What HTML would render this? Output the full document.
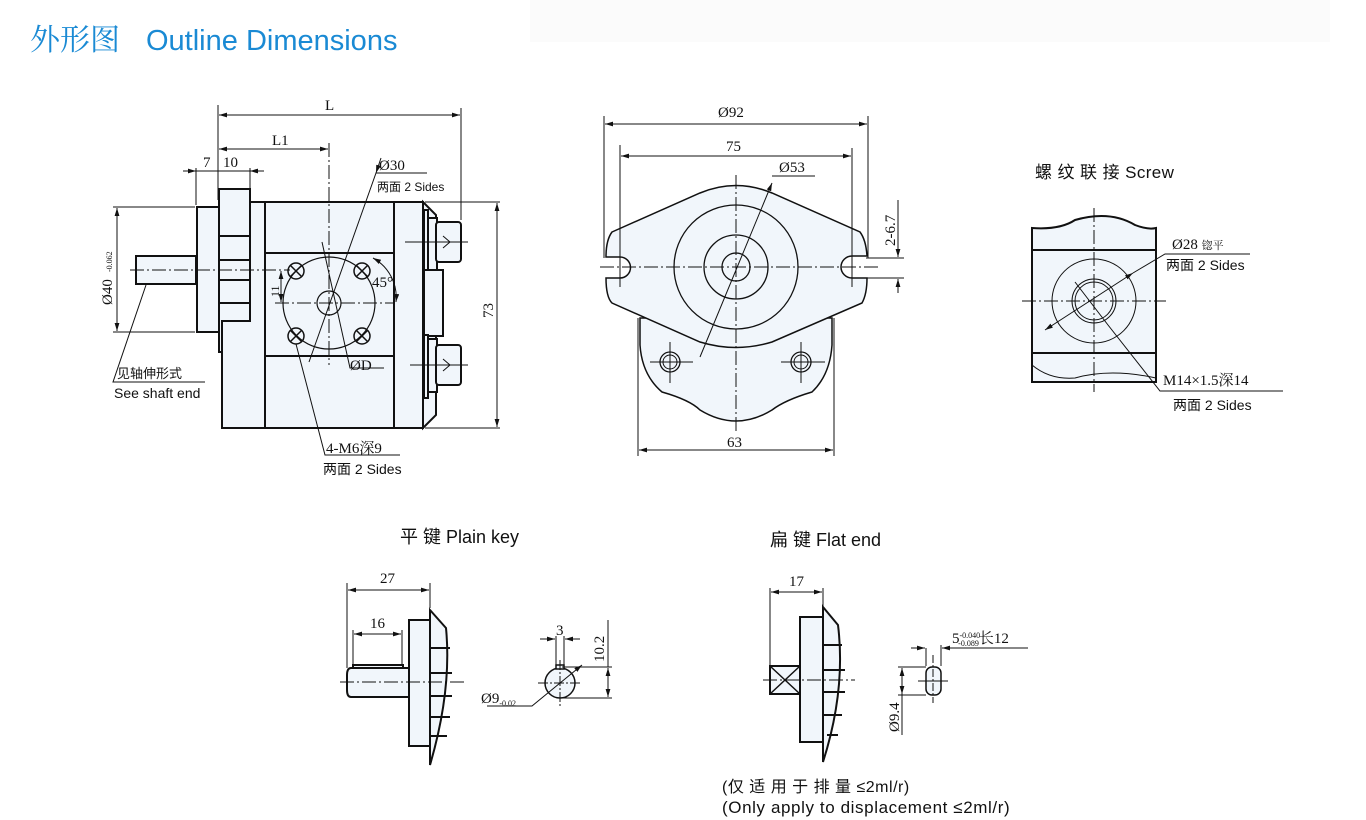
<!DOCTYPE html>
<html><head><meta charset="utf-8"><style>
body{margin:0;background:#fff;width:1366px;height:820px;overflow:hidden}
svg{display:block}
text{font-family:"Liberation Serif","Noto Serif CJK SC",serif;fill:#111}
.s{font-family:"Liberation Sans","Noto Sans CJK SC",sans-serif}
</style></head><body>
<svg width="1366" height="820" viewBox="0 0 1366 820" xmlns="http://www.w3.org/2000/svg">
<defs>
<marker id="a" viewBox="0 0 10 6" refX="10" refY="3" markerWidth="8" markerHeight="5" orient="auto-start-reverse"><path d="M0,0L10,3L0,6z" fill="#111"/></marker>
</defs>
<rect x="530" y="0" width="800" height="42" fill="#fbfbfb"/>
<text x="30" y="50" font-size="30" style="fill:#1a8ad4;font-family:'Noto Serif CJK SC',serif">外形图</text>
<text x="146" y="50" class="s" font-size="29" style="fill:#1a8ad4">Outline Dimensions</text>

<g stroke="#111" fill="none" stroke-width="1">
<!-- MAIN VIEW -->
<g fill="#f1f6fb" stroke-width="2">
<rect x="136" y="256" width="60" height="28"/>
<rect x="197" y="207" width="22" height="125"/>
<path d="M250,202H423V428H222V321H250z"/>
<path d="M219,189H250V321H222V352H219z"/>
<path d="M423,202L436,215V415L423,428z"/>
<rect x="424" y="210" width="4" height="62"/>
<rect x="428" y="218" width="9" height="53"/>
<rect x="436" y="222" width="25" height="40" rx="3"/>
<path d="M424,270H443V336H424z"/>
<rect x="424" y="335" width="4" height="63"/>
<rect x="428" y="339" width="9" height="53"/>
<rect x="436" y="345" width="25" height="40" rx="3"/>
</g>
<g stroke-width="2">
<line x1="265" y1="202" x2="265" y2="428"/><line x1="394" y1="202" x2="394" y2="428"/>
<line x1="265" y1="253" x2="394" y2="253"/><line x1="265" y1="356" x2="394" y2="356"/>
<line x1="219" y1="236" x2="250" y2="236"/><line x1="219" y1="260" x2="250" y2="260"/>
<line x1="219" y1="280" x2="250" y2="280"/><line x1="219" y1="303" x2="250" y2="303"/>
</g>
<circle cx="329" cy="303" r="46" stroke-width="1.2"/>
<circle cx="329" cy="303" r="12" stroke-width="1.2"/>
<g stroke-width="1.5">
<circle cx="296" cy="271" r="8"/><circle cx="362" cy="271" r="8"/>
<circle cx="296" cy="336" r="8"/><circle cx="362" cy="336" r="8"/>
<path d="M290,265l12,12M302,265l-12,12M356,265l12,12M368,265l-12,12M290,330l12,12M302,330l-12,12M356,330l12,12M368,330l-12,12"/>
</g>
<line x1="329" y1="143" x2="329" y2="365" stroke-dasharray="14,3,2,3"/>
<line x1="275" y1="303" x2="395" y2="303" stroke-dasharray="14,3,2,3"/>
<line x1="130" y1="270" x2="290" y2="270" stroke-dasharray="14,3,2,3"/>
<line x1="405" y1="242" x2="468" y2="242"/><line x1="410" y1="365" x2="468" y2="365"/>
<path d="M443,236l7,6l-7,6M443,359l7,6l-7,6"/>
<!-- dims -->
<line x1="218" y1="105" x2="218" y2="200"/><line x1="461" y1="108" x2="461" y2="220"/>
<line x1="219" y1="115" x2="460" y2="115" marker-start="url(#a)" marker-end="url(#a)"/>
<line x1="219" y1="149" x2="328" y2="149" marker-start="url(#a)" marker-end="url(#a)"/>
<line x1="196" y1="168" x2="196" y2="205"/><line x1="250" y1="168" x2="250" y2="188"/>
<line x1="183" y1="171" x2="196" y2="171" marker-end="url(#a)"/><line x1="264" y1="171" x2="250" y2="171" marker-end="url(#a)"/>
<line x1="196" y1="171" x2="250" y2="171"/>
<line x1="425" y1="202" x2="500" y2="202"/><line x1="425" y1="428" x2="500" y2="428"/>
<line x1="497" y1="203" x2="497" y2="427" marker-start="url(#a)" marker-end="url(#a)"/>
<line x1="113" y1="207" x2="195" y2="207"/><line x1="113" y1="332" x2="195" y2="332"/>
<line x1="117" y1="208" x2="117" y2="331" marker-start="url(#a)" marker-end="url(#a)"/>
<line x1="281" y1="271" x2="281" y2="302" marker-start="url(#a)" marker-end="url(#a)"/>
<path d="M373,258A45,45 0 0 1 396,302" marker-start="url(#a)" marker-end="url(#a)"/>
<path d="M309,362L376,173H427"/>
<line x1="381" y1="158" x2="376" y2="173" marker-end="url(#a)"/>
<path d="M322,242L350,368H384"/>
<path d="M296,344L325,455H400"/>
<path d="M146,285L113,382H205"/>
<!-- FRONT VIEW -->
<g fill="#f1f6fb" stroke-width="1.5">
<path d="M640,318V345Q642,375 662,392Q690,400 700,410Q736,432 772,410Q785,400 812,392Q830,375 832,345V318z"/>
<path d="M612,232L700,193Q736,178 772,193L860,232Q866,240 867,256H852A10,10 0 0 0 852,278H867Q867,294 862,303L772,342Q736,353 700,342L612,303Q606,297 606,278H620A10,10 0 0 0 620,257H606Q606,240 612,232z"/>
</g>
<circle cx="736" cy="267" r="62" stroke-width="1.3"/>
<circle cx="736" cy="267" r="32" stroke-width="1.3"/>
<circle cx="736" cy="267" r="14" stroke-width="1.3"/>
<circle cx="670" cy="362" r="10" stroke-width="1.3"/><circle cx="670" cy="362" r="7"/>
<circle cx="801" cy="362" r="10" stroke-width="1.3"/><circle cx="801" cy="362" r="7"/>
<path d="M650,362H693M670,342V383M781,362H825M801,342V383"/>
<line x1="736" y1="175" x2="736" y2="432" stroke-dasharray="14,3,2,3"/>
<line x1="600" y1="267" x2="880" y2="267" stroke-dasharray="14,3,2,3"/>
<line x1="604" y1="116" x2="604" y2="258"/><line x1="868" y1="116" x2="868" y2="258"/>
<line x1="605" y1="124" x2="867" y2="124" marker-start="url(#a)" marker-end="url(#a)"/>
<line x1="620" y1="145" x2="620" y2="287"/><line x1="852" y1="148" x2="852" y2="287"/>
<line x1="621" y1="156" x2="851" y2="156" marker-start="url(#a)" marker-end="url(#a)"/>
<path d="M700,357L772,183" marker-end="url(#a)"/><path d="M772,176H815"/>
<line x1="638" y1="318" x2="638" y2="456"/><line x1="834" y1="318" x2="834" y2="456"/>
<line x1="639" y1="450" x2="833" y2="450" marker-start="url(#a)" marker-end="url(#a)"/>
<line x1="866" y1="258" x2="904" y2="258"/><line x1="866" y1="278" x2="904" y2="278"/>
<line x1="898" y1="200" x2="898" y2="257" marker-end="url(#a)"/><line x1="898" y1="293" x2="898" y2="279" marker-end="url(#a)"/>
<!-- SCREW -->
<path d="M1032,228Q1060,230 1075,220Q1110,210 1135,225Q1148,230 1156,228V382H1032z" fill="#f1f6fb" stroke-width="2"/>
<line x1="1032" y1="250" x2="1156" y2="250" stroke-width="2"/><line x1="1032" y1="353" x2="1156" y2="353" stroke-width="2"/>
<path d="M1032,365Q1050,380 1075,378Q1110,368 1156,378" stroke-width="1"/>
<circle cx="1094" cy="301" r="42"/><circle cx="1094" cy="301" r="22"/><circle cx="1094" cy="301" r="19"/>
<line x1="1094" y1="208" x2="1094" y2="392" stroke-dasharray="14,3,2,3"/>
<line x1="1022" y1="301" x2="1166" y2="301" stroke-dasharray="14,3,2,3"/>
<path d="M1045,330L1133,273" marker-start="url(#a)" marker-end="url(#a)"/><path d="M1133,273L1165,254H1250"/>
<path d="M1075,282L1108,325L1160,391H1283"/>
<!-- PLAIN KEY -->
<g fill="#f1f6fb" stroke-width="2">
<path d="M351,668H409V697H351Q347,697 347,690V675Q347,668 351,668z"/>
<rect x="353" y="665" width="50" height="3"/>
<rect x="409" y="620" width="21" height="126"/>
<path d="M430,610L446,628Q452,690 430,765z"/>
</g>
<path d="M430,648H450M430,673H452M430,696H452M430,717H450M430,736H447" stroke-width="2"/>
<line x1="340" y1="682" x2="465" y2="682" stroke-dasharray="14,3,2,3"/>
<line x1="347" y1="583" x2="347" y2="668"/><line x1="430" y1="583" x2="430" y2="608"/>
<line x1="348" y1="590" x2="429" y2="590" marker-start="url(#a)" marker-end="url(#a)"/>
<line x1="353" y1="630" x2="353" y2="665"/><line x1="402" y1="630" x2="402" y2="665"/>
<line x1="354" y1="634" x2="401" y2="634" marker-start="url(#a)" marker-end="url(#a)"/>
<circle cx="560" cy="683" r="15" fill="#f1f6fb" stroke-width="1.5"/>
<rect x="556" y="665" width="8" height="4" fill="#f1f6fb" stroke-width="1.5"/>
<line x1="560" y1="660" x2="560" y2="706" stroke-dasharray="10,2,2,2"/><line x1="538" y1="683" x2="582" y2="683" stroke-dasharray="10,2,2,2"/>
<line x1="556" y1="636" x2="556" y2="665"/><line x1="564" y1="636" x2="564" y2="665"/>
<line x1="540" y1="639" x2="555" y2="639" marker-end="url(#a)"/><line x1="580" y1="639" x2="565" y2="639" marker-end="url(#a)"/>
<line x1="562" y1="667" x2="612" y2="667"/><line x1="562" y1="698" x2="612" y2="698"/>
<line x1="608" y1="668" x2="608" y2="697" marker-start="url(#a)" marker-end="url(#a)"/>
<line x1="608" y1="620" x2="608" y2="667"/>
<path d="M487,706H532L582,665" marker-end="url(#a)"/>
<!-- FLAT END -->
<g fill="#f1f6fb" stroke-width="2">
<rect x="770" y="666" width="30" height="28"/>
<rect x="800" y="617" width="23" height="125"/>
<path d="M823,607L838,625Q846,690 823,762z"/>
</g>
<path d="M770,666L800,694M800,666L770,694" stroke-width="1.5"/>
<path d="M823,645H842M823,670H845M823,692H845M823,715H842M827,735H838" stroke-width="2"/>
<line x1="763" y1="680" x2="855" y2="680" stroke-dasharray="14,3,2,3"/>
<line x1="770" y1="588" x2="770" y2="665"/><line x1="823" y1="588" x2="823" y2="606"/>
<line x1="771" y1="592" x2="822" y2="592" marker-start="url(#a)" marker-end="url(#a)"/>
<rect x="926" y="667" width="15" height="28" rx="6" fill="#f1f6fb" stroke-width="1.5"/>
<line x1="933" y1="655" x2="933" y2="703" stroke-dasharray="8,2,2,2"/><line x1="918" y1="681" x2="948" y2="681"/>
<line x1="926" y1="648" x2="926" y2="666"/><line x1="941" y1="645" x2="941" y2="666"/>
<line x1="911" y1="648" x2="925" y2="648" marker-end="url(#a)"/><line x1="1028" y1="648" x2="942" y2="648" marker-end="url(#a)"/>
<line x1="898" y1="667" x2="926" y2="667"/><line x1="898" y1="695" x2="926" y2="695"/>
<line x1="902" y1="668" x2="902" y2="694" marker-start="url(#a)" marker-end="url(#a)"/>
<line x1="902" y1="694" x2="902" y2="735"/>
</g>

<!-- TEXTS -->
<g font-size="15">
<text x="325" y="110">L</text>
<text x="272" y="145">L1</text>
<text x="203" y="167">7</text><text x="223" y="167">10</text>
<text x="379" y="170" font-size="15">Ø30</text>
<text x="377" y="191" class="s" font-size="12">两面 2 Sides</text>
<text x="372" y="287">45°</text>
<text x="350" y="370">ØD</text>
<text transform="translate(279,297) rotate(-90)" font-size="12">11</text>
<text transform="translate(493,318) rotate(-90)">73</text>
<text transform="translate(112,305) rotate(-90)">Ø40</text>
<text transform="translate(112,272) rotate(-90)" font-size="8">-0.062</text>
<text x="117" y="378" class="s" font-size="13">见轴伸形式</text>
<text x="114" y="398" class="s" font-size="14">See shaft end</text>
<text x="326" y="453">4-M6深9</text>
<text x="323" y="474" class="s" font-size="14">两面 2 Sides</text>
<text x="718" y="117">Ø92</text>
<text x="726" y="151">75</text>
<text x="779" y="172">Ø53</text>
<text x="727" y="447">63</text>
<text transform="translate(895,246) rotate(-90)">2-6.7</text>
<text x="1035" y="178" class="s" font-size="17" letter-spacing="0.4">螺 纹 联 接  Screw</text>
<text x="1172" y="249">Ø28 <tspan font-size="11">锪平</tspan></text>
<text x="1166" y="270" class="s" font-size="14">两面 2 Sides</text>
<text x="1163" y="385">M14×1.5深14</text>
<text x="1173" y="410" class="s" font-size="14">两面 2 Sides</text>
<text x="400" y="543" class="s" font-size="18">平 键  Plain key</text>
<text x="770" y="546" class="s" font-size="18">扁 键  Flat end</text>
<text x="380" y="583">27</text>
<text x="370" y="628">16</text>
<text x="556" y="635">3</text>
<text transform="translate(604,662) rotate(-90)">10.2</text>
<text x="481" y="703">Ø9<tspan font-size="8" dy="3">-0.02</tspan></text>
<text x="789" y="586">17</text>
<text x="952" y="643">5<tspan font-size="8" dy="-5">-0.040</tspan><tspan font-size="8" dx="-22" dy="8">-0.089</tspan><tspan dy="-3">长12</tspan></text>
<text transform="translate(899,732) rotate(-90)">Ø9.4</text>
<text x="722" y="792" class="s" font-size="16" letter-spacing="0.5">(仅 适 用 于 排 量 ≤2ml/r)</text>
<text x="722" y="813" class="s" font-size="17" letter-spacing="0.6">(Only apply to displacement ≤2ml/r)</text>
</g>
</svg>
</body></html>
